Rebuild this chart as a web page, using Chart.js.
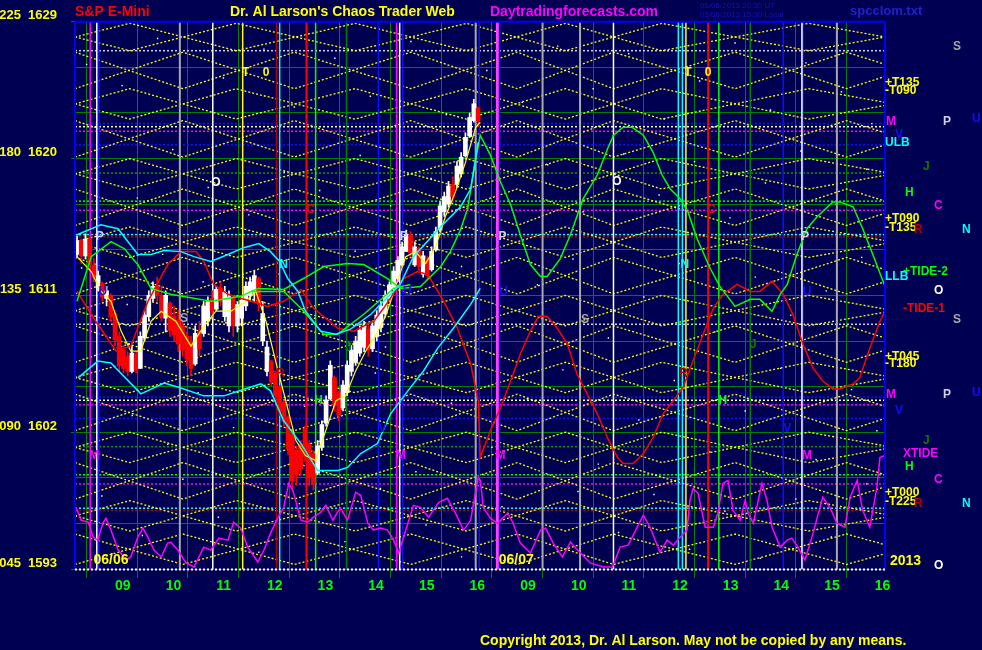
<!DOCTYPE html>
<html>
<head>
<meta charset="utf-8">
<script src="https://cdn.jsdelivr.net/npm/chart.js"></script>
<style>
  html, body { margin: 0; padding: 0; background: #000052; }
  canvas { display: block; }
</style>
</head>
<body>
<canvas id="chaos" width="982" height="650"></canvas>
<script>
// ---- axes ----
const X_MIN = -0.73, X_MAX = 15.26;   // session hours, 0 = 09:00 of 06/06, 8 = 09:00 of 06/07
const Y_MIN = 1593, Y_MAX = 1629;
const hourTicks = [0, 1, 2, 3, 4, 5, 6, 7, 8, 9, 10, 11, 12, 13, 14, 15];
const hourLabels = ['09','10','11','12','13','14','15','16','09','10','11','12','13','14','15','16'];
const yLabelPrices = [1593, 1602, 1611, 1620, 1629];
const yLabelDegrees = ['045', '090', '135', '180', '225'];

// ---- price bars, 5 minute, 06/06 (open, high, low, close) ----
const barStart = -0.69, barStep = 1 / 12;
const ohlc = [
  [1613.7,1614.9,1613.5,1614.6],[1614.6,1614.7,1613.1,1613.6],[1613.6,1615.05,1613.4,1614.7],[1614.7,1614.8,1612.6,1613.0],
  [1613.0,1613.4,1611.9,1612.2],[1611.5,1612.6,1611.3,1612.3],[1611.8,1611.9,1610.6,1610.9],[1610.8,1611.6,1610.3,1611.3],
  [1611.0,1611.1,1609.3,1609.6],[1609.8,1610.0,1607.7,1608.1],[1608.3,1608.6,1606.0,1606.4],[1607.4,1607.7,1605.9,1606.2],
  [1607.0,1607.3,1605.7,1606.0],[1606.0,1607.7,1605.9,1607.2],[1607.1,1607.3,1605.9,1606.1],[1606.2,1608.6,1606.2,1608.3],
  [1608.2,1610.0,1608.0,1609.7],[1609.6,1611.3,1609.3,1611.0],[1610.8,1611.9,1610.6,1611.6],[1611.6,1612.2,1610.6,1611.0],
  [1611.0,1611.6,1609.3,1609.6],[1609.5,1611.3,1608.6,1611.0],[1610.5,1610.6,1608.3,1608.7],[1609.6,1610.3,1608.0,1608.4],
  [1609.4,1610.0,1607.3,1607.8],[1609.0,1609.3,1607.0,1607.4],[1608.3,1608.6,1606.4,1606.8],[1607.9,1608.3,1605.7,1606.2],
  [1606.5,1609.0,1606.4,1608.5],[1608.6,1609.3,1607.0,1607.5],[1608.5,1610.6,1608.3,1610.3],[1609.3,1610.9,1609.0,1610.6],
  [1610.8,1611.3,1609.6,1610.0],[1610.1,1611.6,1610.0,1611.4],[1611.5,1611.9,1610.3,1610.6],[1609.6,1611.6,1609.3,1611.2],
  [1609.0,1611.3,1608.6,1610.9],[1610.8,1610.9,1608.3,1609.0],[1609.0,1610.6,1608.6,1610.4],[1609.5,1610.9,1609.0,1610.7],
  [1610.3,1611.9,1610.0,1611.6],[1611.0,1612.2,1610.6,1611.9],[1611.2,1612.6,1610.6,1612.3],[1612.1,1612.2,1610.0,1610.5],
  [1608.0,1610.6,1607.7,1609.8],[1606.0,1608.0,1605.7,1607.6],[1606.7,1606.7,1605.05,1605.3],[1605.9,1606.0,1604.1,1604.4],
  [1605.0,1605.05,1603.1,1603.4],[1604.0,1604.1,1602.4,1602.7],[1603.0,1603.1,1600.5,1600.9],[1601.9,1602.1,1598.2,1598.8],
  [1600.8,1601.1,1598.5,1599.2],[1601.2,1601.45,1599.2,1599.6],[1602.2,1602.4,1600.1,1600.4],[1601.2,1601.45,1598.5,1599.0],
  [1600.6,1600.8,1598.2,1598.6],[1599.3,1601.45,1599.2,1601.1],[1601.0,1602.75,1600.8,1602.5],[1602.6,1604.4,1602.4,1604.1],
  [1604.2,1606.7,1604.1,1606.4],[1605.6,1605.7,1603.4,1603.8],[1604.6,1604.7,1602.75,1603.1],[1603.6,1605.4,1603.4,1605.1],
  [1604.6,1606.7,1604.4,1606.4],[1606.0,1607.7,1605.7,1607.4],[1606.6,1608.3,1606.4,1608.0],[1607.2,1609.0,1607.0,1608.7],
  [1607.6,1609.3,1607.3,1609.0],[1608.8,1609.0,1607.0,1607.4],[1607.5,1609.3,1607.3,1609.0],[1608.3,1610.0,1608.0,1609.7],
  [1608.9,1610.6,1608.6,1610.3],[1609.8,1611.3,1609.6,1611.0],[1610.8,1611.9,1610.6,1611.7],[1611.4,1612.9,1611.3,1612.6],
  [1612.1,1613.55,1611.9,1613.3],[1613.0,1614.5,1612.9,1614.2],[1613.9,1615.3,1613.9,1615.0],[1615.0,1615.2,1613.55,1613.8],
  [1613.0,1614.5,1612.9,1614.2],[1614.1,1614.2,1612.6,1612.9],[1612.4,1613.9,1612.2,1613.6],[1613.4,1613.55,1612.0,1612.3],
  [1612.7,1614.2,1612.6,1613.9],[1614.0,1615.5,1613.9,1615.2],[1615.3,1617.15,1615.2,1616.9],[1616.5,1617.8,1616.2,1617.5],
  [1617.0,1618.5,1616.8,1618.2],[1618.3,1618.8,1617.15,1617.5],[1618.3,1619.8,1618.1,1619.5],[1619.0,1620.4,1618.8,1620.1],
  [1620.2,1621.7,1620.1,1621.4],[1621.5,1623.0,1621.4,1622.7],[1622.5,1623.9,1622.4,1623.6],[1623.3,1623.4,1622.1,1622.5]
];

// ---- curves [hour, price] ----
const cyanUpper = [[-0.69,1614.99],[-0.22,1615.65],[0.12,1615.39],[0.51,1613.69],[0.77,1613.69],[1.03,1613.95],[1.36,1613.88],
  [1.62,1613.55],[1.95,1613.23],[2.29,1613.69],[2.60,1614.14],[2.90,1614.41],[3.13,1613.88],[3.31,1613.23],[3.47,1612.11],
  [3.67,1611.26],[3.82,1609.96],[4.12,1608.65],[4.42,1608.45],[4.71,1608.78],[5.11,1609.76],[5.50,1611.07],[5.70,1611.79],
  [5.95,1613.55],[6.49,1615.52],[6.88,1616.83],[7.08,1618.0],[7.23,1621.08]];
const cyanLower = [[-0.67,1605.57],[-0.28,1606.68],[-0.02,1606.55],[0.57,1604.52],[1.03,1605.24],[1.36,1604.91],[1.81,1604.39],
  [2.21,1604.39],[2.68,1604.91],[2.94,1605.18],[3.13,1604.72],[3.39,1602.75],[3.73,1601.25],[4.06,1599.48],[4.46,1599.48],
  [4.65,1599.68],[4.91,1600.6],[5.24,1601.25],[5.50,1603.21],[5.84,1604.72],[6.15,1606.03],[6.43,1607.53],[6.74,1608.84],
  [7.08,1610.41],[7.27,1611.46]];
const greenWave = [[-0.69,1610.61],[-0.41,1613.55],[-0.02,1614.54],[0.24,1614.08],[0.51,1613.03],[0.77,1611.46],[1.16,1611.07],
  [1.95,1610.61],[2.54,1610.94],[2.88,1611.46],[3.39,1611.39],[3.78,1612.11],[4.18,1612.9],[4.65,1613.1],[4.97,1613.03],
  [5.44,1612.11],[5.70,1611.46],[6.09,1611.59],[6.49,1612.9],[6.68,1613.88],[6.88,1615.32],[7.02,1616.7],[7.18,1619.97],
  [7.27,1621.54],[7.47,1620.23],[7.67,1618.46],[7.87,1616.96],[8.06,1614.99],[8.26,1613.03],[8.46,1612.25],[8.59,1612.25],
  [8.85,1613.42],[9.05,1614.99],[9.30,1617.35],[9.58,1618.92],[9.78,1620.62],[9.90,1621.54],[10.09,1622.06],[10.27,1622.06],
  [10.49,1621.54],[10.68,1620.43],[10.86,1618.92],[11.02,1618.0],[11.22,1617.35],[11.37,1616.5],[11.55,1614.73],[11.81,1612.77],
  [12.00,1611.59],[12.30,1610.28],[12.60,1610.74],[12.79,1610.74],[13.03,1609.96],[13.19,1611.07],[13.33,1611.72],[13.52,1613.69],
  [13.72,1615.39],[13.92,1616.17],[14.23,1617.15],[14.37,1617.15],[14.63,1616.83],[14.82,1615.39],[15.02,1613.69],[15.20,1612.11],
  [15.26,1611.59]];
const greenInner = [[2.74,1611.26],[3.39,1611.26],[3.73,1610.15],[4.18,1608.45],[4.46,1608.45],[4.97,1609.76],[5.56,1611.46],[5.89,1611.72]];
const redWave = [[-0.69,1611.26],[-0.32,1609.3],[0.08,1607.34],[0.37,1607.66],[0.71,1610.61],[1.10,1613.03],[1.36,1613.88],
  [1.66,1613.88],[1.81,1613.23],[2.01,1611.72],[2.29,1611.07],[2.74,1610.61],[3.07,1610.28],[3.39,1610.61],[3.73,1611.39],
  [3.98,1610.15],[4.46,1608.84],[4.77,1608.65],[5.17,1609.3],[5.36,1610.15],[5.76,1612.11],[6.03,1612.57],[6.23,1612.38],
  [6.35,1611.72],[6.55,1610.61],[6.82,1608.84],[7.08,1606.49],[7.23,1604.07],[7.27,1600.33],[7.47,1602.1],[7.67,1603.61],
  [7.87,1605.37],[8.06,1607.14],[8.26,1608.65],[8.42,1609.63],[8.59,1609.63],[8.79,1608.84],[8.99,1607.79],[9.18,1605.83],
  [9.38,1604.52],[9.58,1603.21],[9.78,1601.64],[9.98,1600.33],[10.09,1599.94],[10.29,1599.94],[10.49,1600.6],[10.68,1601.64],
  [10.88,1603.21],[11.08,1604.07],[11.27,1604.91],[11.47,1606.68],[11.67,1608.45],[11.87,1610.15],[12.06,1611.07],[12.34,1611.72],
  [12.60,1611.26],[12.79,1611.26],[13.03,1611.92],[13.25,1611.07],[13.44,1609.76],[13.64,1607.79],[13.84,1606.22],[14.03,1605.37],
  [14.23,1604.85],[14.37,1604.85],[14.63,1605.18],[14.76,1605.57],[14.96,1607.53],[15.16,1609.3],[15.26,1609.96]];
const yellowAverage = [[-0.69,1613.55],[-0.41,1612.57],[-0.22,1611.26],[-0.02,1610.61],[0.18,1608.65],[0.37,1607.34],[0.57,1607.34],
  [0.77,1609.3],[0.97,1609.96],[1.26,1609.3],[1.56,1607.66],[1.75,1608.65],[2.05,1609.96],[2.35,1609.96],[2.64,1610.61],
  [2.84,1611.26],[3.04,1609.3],[3.23,1606.68],[3.43,1604.07],[3.63,1601.45],[3.82,1600.47],[4.02,1600.14],[4.22,1602.1],
  [4.42,1604.07],[4.61,1604.39],[4.81,1606.03],[5.01,1607.34],[5.20,1608.32],[5.40,1609.63],[5.60,1611.59],[5.80,1613.55],
  [5.99,1613.88],[6.19,1613.1],[6.39,1614.21],[6.58,1616.17],[6.78,1617.81],[6.98,1619.77],[7.18,1622.06],[7.27,1622.39]];
const magentaTide = [[-0.71,1597.06],[-0.61,1596.21],[-0.47,1596.08],[-0.37,1595.1],[-0.28,1594.9],[-0.18,1596.01],[-0.12,1596.34],
  [-0.02,1595.56],[0.12,1594.25],[0.28,1593.59],[0.37,1593.79],[0.51,1595.1],[0.61,1595.69],[0.71,1595.1],[0.83,1594.25],
  [0.97,1593.79],[1.10,1594.7],[1.16,1594.77],[1.30,1594.25],[1.46,1593.4],[1.62,1593.13],[1.81,1594.44],[1.95,1594.25],
  [2.11,1595.03],[2.29,1594.9],[2.40,1596.08],[2.54,1595.69],[2.68,1594.44],[2.88,1593.46],[3.00,1594.25],[3.13,1595.36],
  [3.27,1596.34],[3.39,1597.06],[3.49,1598.63],[3.57,1598.17],[3.73,1596.21],[3.86,1596.08],[3.98,1596.41],[4.12,1596.73],
  [4.22,1597.19],[4.36,1596.21],[4.45,1596.73],[4.51,1597.0],[4.65,1596.21],[4.81,1598.04],[4.91,1597.85],[5.05,1596.01],
  [5.16,1595.56],[5.30,1595.69],[5.44,1595.56],[5.56,1594.9],[5.66,1594.05],[5.80,1595.56],[5.95,1597.19],[6.09,1597.06],
  [6.25,1596.41],[6.45,1597.39],[6.62,1597.65],[6.78,1596.67],[6.94,1595.56],[7.08,1596.21],[7.23,1599.02],[7.27,1598.83],
  [7.33,1597.06],[7.47,1596.34],[7.61,1596.01],[7.81,1596.67],[7.92,1596.01],[8.06,1594.7],[8.26,1594.05],[8.46,1595.56],
  [8.56,1595.69],[8.71,1594.7],[8.89,1593.79],[9.05,1594.77],[9.19,1594.25],[9.44,1593.4],[9.70,1593.13],[9.88,1593.13],
  [10.03,1594.44],[10.19,1594.57],[10.37,1595.75],[10.49,1596.54],[10.62,1595.75],[10.82,1594.12],[10.96,1594.9],[11.08,1594.57],
  [11.22,1595.1],[11.35,1595.56],[11.41,1597.52],[11.47,1598.3],[11.57,1597.98],[11.71,1595.75],[11.87,1595.75],[11.96,1596.67],
  [12.06,1598.63],[12.16,1598.83],[12.26,1596.86],[12.40,1596.21],[12.50,1597.52],[12.56,1596.67],[12.66,1596.01],[12.83,1598.63],
  [12.93,1597.52],[13.03,1595.75],[13.19,1594.44],[13.33,1594.9],[13.42,1595.03],[13.54,1594.44],[13.68,1593.59],[13.84,1595.36],
  [14.03,1597.72],[14.17,1597.06],[14.31,1596.01],[14.47,1595.75],[14.57,1597.72],[14.71,1598.83],[14.82,1596.86],[14.96,1595.75],
  [15.10,1598.37],[15.16,1600.33],[15.26,1600.47]];

// ---- yellow chaos lattice: prices at the knot hours ----
const knotsA = [-0.73, 0.35, 2.45, 4.8, 7.0, 8.95, 10.85, 13.75, 15.26];
const knotsB = [-0.73, 1.4, 3.6, 5.9, 8.0, 9.9, 12.3, 14.5, 15.26];
const latticeA = [
  [1628.0,1628.9,1627.1,1628.9,1627.1,1628.9,1627.1,1628.9,1628.0],
  [1628.0,1627.1,1628.9,1627.1,1628.9,1627.1,1628.9,1627.1,1628.0],
  [1623.6,1624.6,1622.6,1624.6,1622.6,1624.6,1622.6,1624.6,1623.7],
  [1623.6,1622.6,1624.6,1622.6,1624.6,1622.6,1624.6,1622.6,1623.5],
  [1619.0,1620.0,1618.0,1620.0,1618.0,1620.0,1618.0,1620.0,1619.1],
  [1619.0,1618.0,1620.0,1618.0,1620.0,1618.0,1620.0,1618.0,1618.9],
  [1614.5,1615.5,1613.5,1615.5,1613.5,1615.5,1613.5,1615.5,1614.6],
  [1614.5,1613.5,1615.5,1613.5,1615.5,1613.5,1615.5,1613.5,1614.4],
  [1610.0,1611.0,1609.0,1611.0,1609.0,1611.0,1609.0,1611.0,1610.1],
  [1610.0,1609.0,1611.0,1609.0,1611.0,1609.0,1611.0,1609.0,1609.9],
  [1605.6,1606.6,1604.6,1606.6,1604.6,1606.6,1604.6,1606.6,1605.7],
  [1605.6,1604.6,1606.6,1604.6,1606.6,1604.6,1606.6,1604.6,1605.5],
  [1601.0,1602.0,1600.0,1602.0,1600.0,1602.0,1600.0,1602.0,1601.1],
  [1601.0,1600.0,1602.0,1600.0,1602.0,1600.0,1602.0,1600.0,1600.9],
  [1596.5,1597.5,1595.5,1597.5,1595.5,1597.5,1595.5,1597.5,1596.6],
  [1596.5,1595.5,1597.5,1595.5,1597.5,1595.5,1597.5,1595.5,1596.4]
];
const latticeB = [
  [1627.0,1624.6,1627.0,1624.6,1627.0,1624.6,1627.0,1624.6,1625.4],
  [1624.6,1627.0,1624.6,1627.0,1624.6,1627.0,1624.6,1627.0,1626.2],
  [1622.5,1620.1,1622.5,1620.1,1622.5,1620.1,1622.5,1620.1,1620.9],
  [1620.1,1622.5,1620.1,1622.5,1620.1,1622.5,1620.1,1622.5,1621.7],
  [1618.0,1615.6,1618.0,1615.6,1618.0,1615.6,1618.0,1615.6,1616.4],
  [1615.6,1618.0,1615.6,1618.0,1615.6,1618.0,1615.6,1618.0,1617.2],
  [1613.5,1611.1,1613.5,1611.1,1613.5,1611.1,1613.5,1611.1,1611.9],
  [1611.1,1613.5,1611.1,1613.5,1611.1,1613.5,1611.1,1613.5,1612.7],
  [1609.0,1606.6,1609.0,1606.6,1609.0,1606.6,1609.0,1606.6,1607.4],
  [1606.6,1609.0,1606.6,1609.0,1606.6,1609.0,1606.6,1609.0,1608.2],
  [1604.5,1602.1,1604.5,1602.1,1604.5,1602.1,1604.5,1602.1,1602.9],
  [1602.1,1604.5,1602.1,1604.5,1602.1,1604.5,1602.1,1604.5,1603.7],
  [1600.0,1597.6,1600.0,1597.6,1600.0,1597.6,1600.0,1597.6,1598.4],
  [1597.6,1600.0,1597.6,1600.0,1597.6,1600.0,1597.6,1600.0,1599.2],
  [1595.3,1593.3,1595.3,1593.3,1595.3,1593.3,1595.3,1593.3,1594.0],
  [1593.3,1595.3,1593.3,1595.3,1593.3,1595.3,1593.3,1595.3,1594.6]
];

// ---- time lines (hours) and price levels ----
const vWhite = [-0.30, 1.99, 5.68, 9.90, 13.62];
const vGray = [1.34, 7.18, 8.50, 9.24, 14.31];
const vBlue = [-0.26, 5.26, 5.74, 7.25, 7.65, 13.25, 13.64];
const vMagenta = [-0.43, 5.62];
const vPink = [7.61];
const vYellow = [2.58, 11.33];
const vRed = [3.84, 11.77];
const vDarkRed = [3.25];
const vCyan = [3.31, 11.18, 11.26];
const vLime = [4.02, 11.98];
const vGreen = [4.63, 12.60];

const hBlue = [1622.3, 1620.9, 1604.3, 1602.9];
const hLavender = [1627.1, 1609.1];
const hWhite = [1622.1, 1604.1];
const hMagenta = [1621.8, 1616.6, 1603.8, 1598.6];
const hCyan = [1615.0, 1597.0];
const hDarkRed = [1614.85, 1596.85];
const hDarkGreen = [1619.05, 1601.05];
const hLime = [1617.2, 1599.2];

// ---- white star dots [hour, price] ----
const stars = [[-0.5,1626.2],[0.2,1624.8],[0.9,1627.9],[1.5,1622.1],[2.2,1625.3],[3.0,1627.2],[3.6,1623.4],[4.4,1626.6],
  [5.1,1624.1],[5.9,1627.7],[6.6,1622.9],[7.4,1625.8],[8.1,1623.7],[8.8,1627.4],[9.5,1624.6],[10.2,1626.9],[10.9,1622.6],
  [11.6,1625.1],[12.3,1627.6],[13.0,1623.2],[13.7,1626.3],[14.4,1624.4],[15.0,1622.3],[-0.3,1619.5],[0.5,1617.4],[1.2,1620.6],
  [1.9,1618.1],[2.7,1616.3],[3.4,1619.1],[4.1,1617.9],[4.9,1620.2],[5.5,1616.9],[6.3,1618.7],[7.0,1620.8],[7.9,1617.2],
  [8.6,1619.6],[9.3,1616.5],[10.1,1620.3],[10.8,1617.6],[11.5,1619.8],[12.2,1616.1],[12.9,1618.4],[13.6,1620.5],[14.3,1617.0],
  [14.9,1619.3],[-0.6,1612.8],[0.3,1610.4],[1.0,1613.7],[1.8,1611.9],[2.5,1608.8],[3.3,1612.4],[4.0,1609.5],[4.8,1613.9],
  [5.4,1607.6],[6.1,1610.2],[6.9,1612.9],[7.8,1609.1],[8.4,1611.7],[9.1,1613.4],[9.8,1608.2],[10.5,1610.9],[11.2,1613.1],
  [11.9,1608.6],[12.7,1612.2],[13.4,1609.7],[14.1,1611.3],[14.8,1613.5],[-0.4,1605.3],[0.4,1603.1],[1.1,1601.2],[1.7,1604.6],
  [2.4,1602.3],[3.1,1599.6],[3.8,1603.7],[4.5,1601.7],[5.2,1605.9],[6.0,1599.4],[6.7,1603.9],[7.5,1601.0],[8.2,1604.2],
  [8.9,1606.1],[9.6,1599.9],[10.4,1602.8],[11.1,1605.4],[11.8,1600.7],[12.5,1603.4],[13.2,1606.2],[13.9,1600.2],[14.6,1604.8],
  [15.1,1602.1],[-0.2,1597.8],[0.6,1595.2],[1.4,1598.9],[2.1,1596.4],[2.9,1594.1],[3.7,1597.3],[4.6,1594.8],[5.3,1598.3],
  [6.2,1595.9],[6.9,1593.8],[7.7,1597.1],[8.5,1594.5],[9.2,1598.1],[10.0,1595.4],[10.7,1597.9],[11.4,1594.3],[12.1,1596.8],
  [12.8,1593.7],[13.5,1597.6],[14.2,1595.1],[14.9,1598.6]];

// ---- planet letters inside the plot ----
const innerText  = ['T','0','T','0','O','O','C','C','P','P','P','P','N','N','S','S','R','R','H','H','J','J','V','V','U','U','U','U','M','M','M','M','06/06','06/07'];
const innerHour  = [2.64,3.04,11.37,11.77,2.05,9.97,3.92,11.83,-0.24,5.76,7.71,13.68,3.39,11.31,1.42,9.34,3.33,11.28,4.08,12.06,
                    4.67,12.66,5.34,13.33,-0.18,5.83,7.73,13.72,-0.35,5.70,7.67,13.72,-0.02,7.98];
const innerPrice = [1625.66,1625.66,1625.66,1625.66,1618.4,1618.46,1616.63,1616.63,1614.86,1614.86,1614.86,1614.86,1613.03,1613.03,
                    1609.5,1609.43,1605.83,1605.83,1604.07,1604.07,1607.53,1607.79,1602.23,1602.23,1611.26,1611.26,1611.26,1611.26,
                    1600.47,1600.47,1600.47,1600.47,1593.55,1593.55];

// ---- labels at the right side ----
const sideText  = ['+T135','-T090','M','V','ULB','S','P','U','J','H','C','+T090','-T135','R','N','+TIDE-2','LLB','O','-TIDE-1','S',
                   '+T045','-T180','M','P','U','V','J','XTIDE','H','C','+T000','-T225','R','N','2013','O'];
const sidePrice = [1625.0,1624.45,1622.4,1621.6,1621.05,1627.35,1622.45,1622.65,1619.45,1617.75,1616.9,1616.05,1615.45,1615.3,1615.3,
                   1612.55,1612.2,1611.3,1610.1,1609.4,1607.0,1606.5,1604.45,1604.45,1604.6,1603.4,1601.45,1600.6,1599.75,1598.9,
                   1598.05,1597.45,1597.3,1597.3,1593.5,1593.25];

// ---- styles ----
const BG = '#000052';
const YEL = '#ffff00', CYA = '#00ffff', MAG = '#ff00ff', RED = '#ff0000', DRED = '#b00000', LIME = '#00ff00',
      DGRN = '#008000', BLU = '#1010ff', WHT = '#ffffff', GRY = '#a8a8a8', LAV = '#d0d0f0';
const FONT = '"Liberation Sans", Arial, sans-serif';
const letterColor = { T: YEL, '0': YEL, O: WHT, C: RED, P: LAV, N: CYA, S: GRY, R: DRED, H: LIME, J: DGRN, V: BLU, U: BLU, M: MAG,
                      '06/06': YEL, '06/07': YEL };
const sideStyle = [
  [0,YEL],[0,YEL],[1,MAG],[10,BLU],[0,CYA],[68,GRY],[58,LAV],[87,BLU],[38,DGRN],[20,LIME],[49,MAG],[0,YEL],[0,YEL],[29,DRED],[77,CYA],
  [18,LIME],[0,CYA],[49,WHT],[18,RED],[68,GRY],[0,YEL],[0,YEL],[1,MAG],[58,LAV],[87,BLU],[10,BLU],[38,DGRN],[18,MAG],[20,LIME],
  [49,MAG],[0,YEL],[0,YEL],[29,DRED],[77,CYA],[5,YEL],[49,WHT]];

// ---- datasets ----
const datasets = [];
const pts = arr => arr.map(p => ({ x: p[0], y: p[1] }));

function addLevels(levels, color, dash) {
  levels.forEach(y => datasets.push({
    type: 'line', data: [{ x: X_MIN, y }, { x: X_MAX, y }], borderColor: color, borderWidth: 1.5,
    borderDash: dash, pointRadius: 0, order: 90
  }));
}
function addTimes(hours, color, width) {
  hours.forEach(x => datasets.push({
    type: 'line', data: [{ x, y: Y_MIN }, { x, y: Y_MAX }], borderColor: color, borderWidth: width,
    pointRadius: 0, order: 70
  }));
}
function addCurve(arr, color, width, order) {
  datasets.push({ type: 'line', data: pts(arr), borderColor: color, borderWidth: width, pointRadius: 0, tension: 0, order });
}

addLevels(hBlue, BLU, [2, 2]);
addLevels(hLavender, LAV, [2, 2]);
addLevels(hWhite, WHT, [2, 2]);
addLevels(hMagenta, MAG, [2, 2]);
addLevels(hCyan, CYA, [2, 2]);
addLevels(hDarkRed, DRED, [2, 2]);
addLevels(hDarkGreen, '#00a000', [2, 2]);
addLevels(hLime, LIME, [2, 2]);

latticeA.forEach(line => datasets.push({
  type: 'line', data: line.map((p, i) => ({ x: knotsA[i], y: p })), borderColor: YEL, borderWidth: 1.3,
  borderDash: [2, 2], pointRadius: 0, order: 80
}));
latticeB.forEach(line => datasets.push({
  type: 'line', data: line.map((p, i) => ({ x: knotsB[i], y: p })), borderColor: YEL, borderWidth: 1.3,
  borderDash: [2, 2], pointRadius: 0, order: 80
}));

datasets.push({ type: 'line', data: pts(stars), showLine: false, pointRadius: 1, pointStyle: 'rect',
  pointBackgroundColor: WHT, pointBorderWidth: 0, order: 78 });

addTimes(vWhite, WHT, 1.5);
addTimes(vGray, GRY, 2);
addTimes(vBlue, BLU, 1.5);
addTimes(vMagenta, MAG, 1.5);
addTimes(vPink, '#ff40ff', 3);
addTimes(vYellow, YEL, 1.5);
addTimes(vRed, RED, 2);
addTimes(vDarkRed, DRED, 1.5);
addTimes(vCyan, CYA, 1.5);
addTimes(vLime, LIME, 1.5);
addTimes(vGreen, DGRN, 1.5);

const barColors = ohlc.map(b => (b[3] >= b[0] ? WHT : RED));
datasets.push({ type: 'bar', data: ohlc.map((b, i) => ({ x: barStart + i * barStep, y: [b[2], b[1]] })),
  backgroundColor: barColors, barThickness: 1, grouped: false, order: 41 });
datasets.push({ type: 'bar', data: ohlc.map((b, i) => ({ x: barStart + i * barStep, y: [Math.min(b[0], b[3]), Math.max(b[0], b[3])] })),
  backgroundColor: barColors, barThickness: 4, grouped: false, minBarLength: 1, order: 40 });

addCurve(cyanLower, CYA, 1.5, 30);
addCurve(cyanUpper, CYA, 1.5, 30);
addCurve(greenInner, LIME, 1.5, 30);
addCurve(greenWave, LIME, 1.5, 30);
addCurve(redWave, RED, 1.5, 30);
addCurve(yellowAverage, YEL, 1.2, 30);
addCurve(magentaTide, MAG, 1.5, 30);

// ---- frame, letters and titles ----
const decor = {
  id: 'decor',
  beforeDraw(chart) {
    const c = chart.ctx;
    c.save();
    c.fillStyle = BG;
    c.fillRect(0, 0, chart.width, chart.height);
    c.restore();
  },
  afterDatasetsDraw(chart) {
    const c = chart.ctx, a = chart.chartArea, xs = chart.scales.x, ys = chart.scales.y;
    c.save();
    c.textBaseline = 'middle';
    c.textAlign = 'center';
    innerText.forEach((t, i) => {
      c.font = 'bold ' + (t.length > 1 ? 14 : 12) + 'px ' + FONT;
      c.fillStyle = letterColor[t];
      c.fillText(t, xs.getPixelForValue(innerHour[i]), ys.getPixelForValue(innerPrice[i]));
    });
    // frame
    c.strokeStyle = '#0000ff';
    c.lineWidth = 2;
    c.beginPath();
    c.moveTo(a.left, a.bottom); c.lineTo(a.left, a.top); c.lineTo(a.right, a.top); c.lineTo(a.right, a.bottom);
    c.stroke();
    c.strokeStyle = WHT;
    c.setLineDash([2, 2]);
    c.beginPath();
    c.moveTo(a.left, a.bottom + 0.5); c.lineTo(a.right, a.bottom + 0.5);
    c.stroke();
    c.restore();
  },
  afterDraw(chart) {
    const c = chart.ctx, a = chart.chartArea, ys = chart.scales.y;
    c.save();
    c.textBaseline = 'middle';
    c.textAlign = 'left';
    sideText.forEach((t, i) => {
      c.fillStyle = sideStyle[i][1];
      c.font = 'bold ' + (t === '2013' ? 14 : 12) + 'px ' + FONT;
      c.fillText(t, a.right + sideStyle[i][0], ys.getPixelForValue(sidePrice[i]));
    });
    c.font = 'bold 14px ' + FONT;
    c.fillStyle = RED; c.fillText('S&P E-Mini', 75, 12);
    c.fillStyle = YEL; c.fillText("Dr. Al Larson's Chaos Trader Web", 230, 12);
    c.fillStyle = MAG; c.fillText('Daytradingforecasts.com', 490, 12);
    c.font = 'bold 13px ' + FONT;
    c.fillStyle = '#2020d0'; c.fillText('spcclom.txt', 850, 11);
    c.font = '8px ' + FONT;
    c.fillStyle = '#1010c0';
    c.fillText('06/06/2013 20:30 UT', 700, 6);
    c.fillText('06/06/2013 15:30 Local', 700, 15);
    c.font = 'bold 14px ' + FONT;
    c.fillStyle = YEL;
    c.fillText('Copyright 2013, Dr. Al Larson. May not be copied by any means.', 480, 641);
    c.restore();
  }
};

new Chart(document.getElementById('chaos'), {
  type: 'line',
  data: { datasets },
  options: {
    responsive: false,
    animation: false,
    devicePixelRatio: 1,
    layout: { padding: { top: 19, right: 97, left: 0, bottom: 0 } },
    plugins: { legend: { display: false }, tooltip: { enabled: false } },
    scales: {
      x: {
        type: 'linear', min: X_MIN, max: X_MAX, offset: false,
        afterBuildTicks: s => { s.ticks = hourTicks.map(v => ({ value: v })); },
        afterFit: s => { s.height = 81; },
        border: { display: false },
        grid: { color: DGRN, lineWidth: 1, tickLength: 9, tickColor: DGRN },
        ticks: {
          color: LIME, font: { family: FONT, weight: 'bold', size: 14 }, align: 'start', labelOffset: 3,
          padding: 0, maxRotation: 0, autoSkip: false,
          callback: (v, i) => hourLabels[i]
        }
      },
      y: {
        type: 'linear', min: Y_MIN, max: Y_MAX,
        afterFit: s => { s.width = 75; },
        border: { display: false },
        grid: { color: DGRN, lineWidth: 1, tickLength: 4,
                tickColor: ctx => (yLabelPrices.includes(ctx.tick.value) ? DGRN : 'rgba(0,0,0,0)') },
        ticks: {
          stepSize: 3, color: YEL, font: { family: FONT, weight: 'bold', size: 13 }, padding: 14, labelOffset: -6,
          autoSkip: false,
          callback: v => { const k = yLabelPrices.indexOf(v); return k < 0 ? '' : yLabelDegrees[k] + '  ' + v; }
        }
      }
    }
  },
  plugins: [decor]
});
</script>
</body>
</html>
